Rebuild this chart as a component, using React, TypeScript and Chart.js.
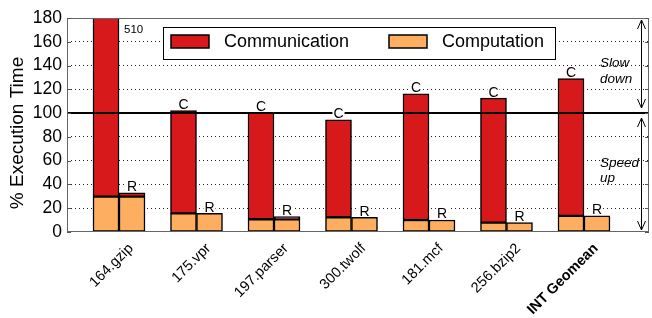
import React, { useEffect, useRef } from 'react';
import { Chart, registerables } from 'chart.js';

Chart.register(...registerables);

// ---- data ----
const CATEGORIES = ['164.gzip', '175.vpr', '197.parser', '300.twolf', '181.mcf', '256.bzip2', 'INT Geomean'];
const C_COMPUTATION = [29.7, 15.7, 10.7, 12.4, 10.1, 7.9, 13.5];
const C_COMMUNICATION = [480.3, 86.4, 89.8, 81.9, 106.1, 104.7, 115.6];
const R_COMPUTATION = [29.7, 15.7, 10.7, 12.4, 10.1, 7.9, 13.5];
const R_COMMUNICATION = [3.3, 0, 2.2, 0, 0, 0, 0];
const Y_TICKS = [0, 20, 40, 60, 80, 100, 120, 140, 160, 180];
const STACK_NAMES = ['C', 'R'];
const SERIES_NAMES = ['Communication', 'Computation'];
const Y_TITLE = '% Execution Time';
const REFERENCE_VALUE = 100;
const SLOW_TEXT = ['Slow', 'down'];
const SPEED_TEXT = ['Speed', 'up'];
const SLOW_TEXT_VALUE = 139;
const SPEED_TEXT_VALUE = 55;

const RED = '#d7191c';
const ORANGE = '#fdae61';
const FONT = '"Liberation Sans", Arial, Helvetica, sans-serif';

const pts = (arr: number[]) => arr.map((v, i) => ({ x: i, y: v }));

const overlayPlugin = {
  id: 'overlay',
  afterDatasetsDraw(chart: any) {
    const { ctx, chartArea } = chart;
    const y = chart.scales.y;
    const { left, right, top, bottom } = chartArea;
    ctx.save();

    // reference line at 100
    const y100 = Math.round(y.getPixelForValue(REFERENCE_VALUE));
    ctx.strokeStyle = '#000';
    ctx.lineWidth = 2;
    ctx.beginPath();
    ctx.moveTo(left, y100);
    ctx.lineTo(right, y100);
    ctx.stroke();

    // frame
    ctx.strokeStyle = '#666';
    ctx.lineWidth = 1;
    ctx.strokeRect(left + 0.5, top + 0.5, right - left - 1, bottom - top - 1);

    // y tick marks (inward, both sides)
    ctx.strokeStyle = '#555';
    Y_TICKS.forEach((t) => {
      const py = Math.round(y.getPixelForValue(t)) + 0.5;
      ctx.beginPath();
      ctx.moveTo(left, py);
      ctx.lineTo(left + 4, py);
      ctx.moveTo(right, py);
      ctx.lineTo(right - 4, py);
      ctx.stroke();
    });

    // y title
    ctx.save();
    ctx.translate(18, (top + bottom) / 2 + 8);
    ctx.rotate(-Math.PI / 2);
    ctx.font = `19px ${FONT}`;
    ctx.fillStyle = '#000';
    ctx.textAlign = 'center';
    ctx.textBaseline = 'middle';
    ctx.fillText(Y_TITLE, 0, 0);
    ctx.restore();

    // stack labels (C / R) and overflow value
    const stackTops = [
      { meta: chart.getDatasetMeta(1), name: STACK_NAMES[0], totals: C_COMPUTATION.map((v, i) => v + C_COMMUNICATION[i]) },
      { meta: chart.getDatasetMeta(3), name: STACK_NAMES[1], totals: R_COMPUTATION.map((v, i) => v + R_COMMUNICATION[i]) },
    ];
    ctx.textAlign = 'center';
    ctx.textBaseline = 'alphabetic';
    stackTops.forEach(({ meta, name, totals }) => {
      meta.data.forEach((el: any, i: number) => {
        if (totals[i] > y.max) {
          ctx.font = `11.5px ${FONT}`;
          ctx.fillStyle = '#000';
          ctx.textAlign = 'left';
          ctx.fillText(String(Math.round(totals[i])), el.x + el.width / 2 + 5, top + 15);
          ctx.textAlign = 'center';
          return;
        }
        ctx.font = `14px ${FONT}`;
        const w = ctx.measureText(name).width;
        const by = el.y - 1.5;
        ctx.fillStyle = '#fff';
        ctx.fillRect(el.x - w / 2 - 1, by - 10.5, w + 2, 10);
        ctx.fillStyle = '#000';
        ctx.fillText(name, el.x, by);
      });
    });

    // legend
    const lx = 163, ly = 27, lw = 392, lh = 32;
    ctx.fillStyle = '#fff';
    ctx.fillRect(lx, ly, lw, lh);
    ctx.strokeStyle = '#000';
    ctx.lineWidth = 1;
    ctx.strokeRect(lx + 0.5, ly + 0.5, lw, lh);
    const entries = [
      { label: SERIES_NAMES[0], color: RED, sx: 171, tx: 224 },
      { label: SERIES_NAMES[1], color: ORANGE, sx: 389, tx: 442 },
    ];
    ctx.font = `18px ${FONT}`;
    ctx.textAlign = 'left';
    ctx.textBaseline = 'middle';
    entries.forEach((e) => {
      ctx.fillStyle = e.color;
      ctx.fillRect(e.sx, 35, 38, 13);
      ctx.lineWidth = 1.5;
      ctx.strokeStyle = '#000';
      ctx.strokeRect(e.sx, 35, 38, 13);
      ctx.fillStyle = '#000';
      ctx.fillText(e.label, e.tx, 42.5);
    });

    // zone texts
    ctx.font = `italic 13.5px ${FONT}`;
    ctx.textBaseline = 'alphabetic';
    ctx.fillStyle = '#000';
    const tx = right - 49;
    const sy = y.getPixelForValue(SLOW_TEXT_VALUE);
    ctx.fillText(SLOW_TEXT[0], tx, sy);
    ctx.fillText(SLOW_TEXT[1], tx, sy + 16);
    const py = y.getPixelForValue(SPEED_TEXT_VALUE);
    ctx.fillText(SPEED_TEXT[0], tx, py);
    ctx.fillText(SPEED_TEXT[1], tx, py + 15);

    // double arrows
    const ax = right - 7.5;
    const arrow = (y1: number, y2: number) => {
      ctx.strokeStyle = '#000';
      ctx.lineWidth = 1;
      ctx.beginPath();
      ctx.moveTo(ax, y1);
      ctx.lineTo(ax, y2);
      ctx.moveTo(ax - 4, y1 + 9);
      ctx.lineTo(ax, y1);
      ctx.lineTo(ax + 4, y1 + 9);
      ctx.moveTo(ax - 4, y2 - 9);
      ctx.lineTo(ax, y2);
      ctx.lineTo(ax + 4, y2 - 9);
      ctx.stroke();
    };
    arrow(y.getPixelForValue(y.max) + 2, y100 - 5);
    arrow(y100 + 5, y.getPixelForValue(0) - 2);

    ctx.restore();
  },
};

export default function App() {
  const ref = useRef<HTMLCanvasElement>(null);
  useEffect(() => {
    if (!ref.current) return;
    const barCommon = {
      borderColor: '#000',
      borderWidth: 1.5,
      borderSkipped: false,
      barThickness: 26,
    };
    const chart = new Chart(ref.current, {
      type: 'bar',
      data: {
        datasets: [
          { label: SERIES_NAMES[1], data: pts(C_COMPUTATION), backgroundColor: ORANGE, stack: STACK_NAMES[0], ...barCommon },
          { label: SERIES_NAMES[0], data: pts(C_COMMUNICATION), backgroundColor: RED, stack: STACK_NAMES[0], ...barCommon },
          { label: SERIES_NAMES[1], data: pts(R_COMPUTATION), backgroundColor: ORANGE, stack: STACK_NAMES[1], ...barCommon },
          { label: SERIES_NAMES[0], data: pts(R_COMMUNICATION), backgroundColor: RED, stack: STACK_NAMES[1], ...barCommon },
        ] as any,
      },
      options: {
        responsive: false,
        animation: false,
        events: [],
        layout: { padding: { top: 18, right: 3, left: 0, bottom: 0 } },
        plugins: { legend: { display: false }, tooltip: { enabled: false } },
        scales: {
          x: {
            type: 'linear',
            offset: false,
            min: -0.671,
            max: 6.839,
            grid: { display: false, drawTicks: false, offset: false },
            border: { display: false },
            afterBuildTicks: (scale: any) => {
              scale.ticks = CATEGORIES.map((_, i) => ({ value: i }));
            },
            afterFit: (scale: any) => {
              scale.height = 86;
            },
            ticks: {
              autoSkip: false,
              minRotation: 45,
              maxRotation: 45,
              padding: 8,
              labelOffset: 12,
              color: '#000',
              font: (c: any) => ({
                family: FONT,
                size: 14.5,
                weight: c.index === CATEGORIES.length - 1 ? 'bold' : 'normal',
              }),
              callback: (v: any) => CATEGORIES[v as number] ?? '',
            },
          },
          y: {
            type: 'linear',
            stacked: true,
            min: 0,
            max: 180,
            afterBuildTicks: (scale: any) => {
              scale.ticks = Y_TICKS.map((v) => ({ value: v }));
            },
            afterFit: (scale: any) => {
              scale.width = 67;
            },
            grid: {
              drawTicks: false,
              lineWidth: 1,
              color: (c: any) => {
                const v = c.tick?.value;
                return v === 0 || v === 180 || v === REFERENCE_VALUE ? 'rgba(0,0,0,0)' : '#222';
              },
            },
            border: { display: false, dash: [1, 3] },
            title: { display: false },
            ticks: {
              autoSkip: false,
              padding: 5,
              color: '#000',
              font: { family: FONT, size: 17.5 },
            },
          },
        },
      },
      plugins: [overlayPlugin],
    } as any);
    return () => chart.destroy();
  }, []);
  return (
    <div style={{ position: 'fixed', left: 0, top: 0, width: 652, height: 318, background: '#fff' }}>
      <canvas ref={ref} width={652} height={318} style={{ display: 'block' }} />
    </div>
  );
}
